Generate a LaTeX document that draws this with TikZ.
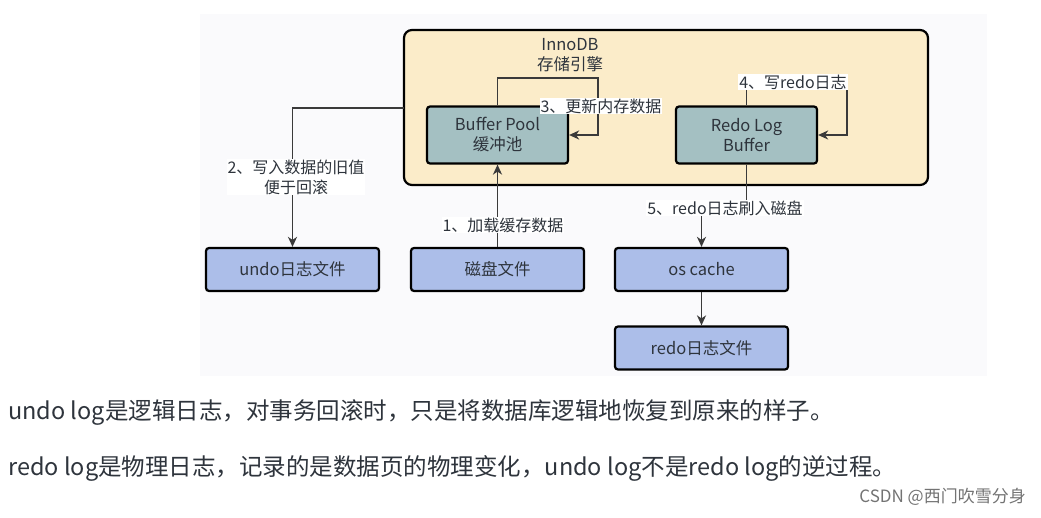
\documentclass[tikz,border=0pt]{standalone}
\usepackage{fontspec}
\setmainfont{Noto Sans CJK SC}
\usepackage{xcolor}
\usetikzlibrary{arrows.meta}

\definecolor{panelgray}{HTML}{FAFAFC}
\definecolor{enginefill}{HTML}{FBECC9}
\definecolor{bufferfill}{HTML}{A4C0C2}
\definecolor{filefill}{HTML}{ACBEE9}
\definecolor{inktext}{HTML}{2E343C}
\definecolor{wirecol}{HTML}{3A3A3A}

\tikzset{
  buffer/.style={draw=black,line width=2.2pt,rounded corners=3pt,fill=bufferfill,
    minimum width=141pt,minimum height=57pt,inner sep=0pt,align=center,
    text=inktext,font=\fontsize{16.5}{20}\selectfont},
  filebox/.style={draw=black,line width=2.2pt,rounded corners=3pt,fill=filefill,
    minimum width=173pt,minimum height=43pt,inner sep=0pt,
    text=inktext,font=\fontsize{16.5}{20}\selectfont},
  steplabel/.style={fill=white,inner sep=1pt,align=center,text=inktext,
    font=\fontsize{16}{20}\selectfont},
  wire/.style={->,draw=wirecol,line width=1.7pt},
  note/.style={anchor=west,inner sep=0pt,text=inktext,font=\fontsize{23.5}{26}\selectfont}
}

\begin{document}
\begin{tikzpicture}[x=1pt,y=-1pt,>={Stealth[length=10pt,width=9pt,inset=3pt]}]
\useasboundingbox (0,0) rectangle (1041,518);
\fill[white] (0,0) rectangle (1041,518);
\fill[panelgray] (200,14) rectangle (987,376);

% storage engine
\draw[line width=2.2pt,rounded corners=8pt,fill=enginefill] (404,30) rectangle (928,185);
\coordinate (innodb) at (404,108);
\node[align=center,text=inktext,font=\fontsize{16.5}{20}\selectfont] (innodbtitle) at (570,55) {InnoDB\\存储引擎};

\node[buffer] (bufpool) at (497.5,135) {Buffer Pool\\缓冲池};
\node[buffer] (redobuf) at (746.5,135) {Redo Log\\Buffer};

% files
\node[filebox] (undofile) at (292.5,269.5) {undo日志文件};
\node[filebox] (diskfile) at (497.5,269.5) {磁盘文件};
\node[filebox] (oscache) at (701.5,269.5) {os cache};
\node[filebox] (redofile) at (701.5,348) {redo日志文件};

% connectors
\coordinate (loopa) at (598,78);
\coordinate (loopb) at (847,82);
\coordinate (flush) at (725,208);

\draw[wire] (diskfile.north) -- (bufpool.south);
\draw[wire] (innodb) -| (undofile.north);
\draw[wire] (bufpool.north) |- (loopa) |- (bufpool.east);
\draw[wire] (redobuf.north) |- (loopb) |- (redobuf.east);
\draw[wire] (redobuf.south) |- (flush) -| (oscache.north);
\draw[wire] (oscache.south) -- (redofile.north);

\node[steplabel] (step1) at (503,225) {1、加载缓存数据};
\node[steplabel] (step2) at (296,177) {2、写入数据的旧值\\便于回滚};
\node[steplabel] (step3) at (601,106) {3、更新内存数据};
\node[steplabel] (step4) at (793,82) {4、写redo日志};
\node[steplabel] (step5) at (725,208) {5、redo日志刷入磁盘};

% notes below
\node[note] (undonote) at (8,413) {undo log是逻辑日志，对事务回滚时，只是将数据库逻辑地恢复到原来的样子。};
\node[note] (redonote) at (8,468) {redo log是物理日志，记录的是数据页的物理变化，undo log不是redo log的逆过程。};
\node[anchor=east,inner sep=0pt,text=black!55,font=\fontsize{17}{20}\selectfont] (mark) at (1026,497) {CSDN @西门吹雪分身};
\end{tikzpicture}
\end{document}
